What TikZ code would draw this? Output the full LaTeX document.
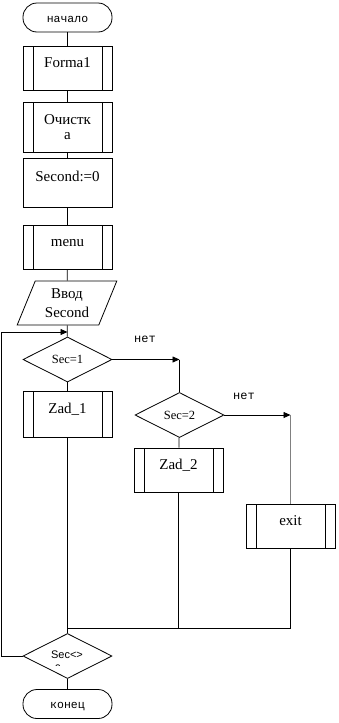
\documentclass[tikz,border=0pt]{standalone}
\usepackage{fontspec}
\setmainfont{Liberation Serif}
\newfontfamily\monof{Liberation Mono}
\newfontfamily\sansf{Liberation Sans}
\usetikzlibrary{shapes.geometric,arrows.meta,calc}
\begin{document}
\begin{tikzpicture}[x=1pt,y=-1pt, line width=0.8pt,
  box/.style={draw, rectangle, minimum width=89pt, inner sep=0pt, font=\fontsize{15}{17}\selectfont},
  oneline/.style={text height=10pt, text depth=12pt},
  predef/.style={box, path picture={
     \draw ($(path picture bounding box.north west)+(10pt,0)$) -- ($(path picture bounding box.south west)+(10pt,0)$);
     \draw ($(path picture bounding box.north east)+(-10pt,0)$) -- ($(path picture bounding box.south east)+(-10pt,0)$);}},
  term/.style={draw, rectangle, rounded corners=14pt, minimum width=89pt, minimum height=29pt, inner sep=0pt,
     font=\monof\fontsize{11.5}{13}\selectfont, text height=9pt, text depth=0pt},
  dec/.style={draw, diamond, minimum width=89pt, minimum height=45pt, inner sep=0pt, font=\fontsize{12.5}{14}\selectfont},
  lbl/.style={font=\monof\fontsize{12}{14}\selectfont, anchor=base},
  arr/.style={-{Triangle[length=7pt,width=6pt]}}
]
\useasboundingbox (0,0) rectangle (338,723);

\node[term] (start) at (67.5,17.5) {начало};
\node[predef, oneline, minimum height=44pt] (f1) at (67.5,68) {Forma1};
\node[predef, align=center, minimum height=50pt] (clr) at (67.5,127) {Очистк\\[-2pt]а};
\node[box, oneline, minimum height=49pt] (sec0) at (67.5,182.5) {Second:=0};
\node[predef, oneline, minimum height=44pt] (menu) at (67.5,247) {menu};
\node[trapezium, trapezium left angle=66.6, trapezium right angle=113.4, trapezium stretches=true,
      draw, minimum width=100pt, minimum height=44pt, inner sep=0pt, align=center,
      font=\fontsize{15}{17}\selectfont] (io) at (67,303) {Ввод\\[2pt]Second};
\node[dec] (d1) at (67.5,359.5) {Sec=1};
\node[predef, oneline, minimum height=46pt] (z1) at (67.5,414) {Zad\_1};
\node[dec] (d2) at (179.5,415) {Sec=2};
\node[predef, oneline, minimum height=44pt] (z2) at (178.5,470) {Zad\_2};
\node[predef, oneline, minimum height=44pt] (ex) at (290.5,526) {exit};
\node[dec] (d3) at (67.5,656) {};
\node[term] (stop) at (67.5,704) {конец};

\begin{scope}
  \clip (23,634) rectangle (112,665.5);
  \node[font=\sansf\fontsize{11}{13}\selectfont, anchor=base] (t3) at (67,658) {Sec<>};
  \node[font=\sansf\fontsize{11}{13}\selectfont, anchor=base] (t3b) at (58,672) {0};
\end{scope}

\coordinate (j1) at (67.5,332);
\coordinate (j2) at (179.5,359.5);
\coordinate (j3) at (290.5,415);
\coordinate (m) at (67.5,628);

\draw (start) -- (f1);
\draw (f1) -- (clr);
\draw (clr) -- (sec0);
\draw (sec0) -- (menu);
\draw (menu) -- (io);
\draw (io) -- (d1);
\draw (d1) -- (z1);
\draw (z1) -- (d3);
\draw (d3) -- (stop);

\draw[arr] (d1.east) -- (j2);
\draw (j2) -- (d2.north);
\node[lbl] (n1) at (145,342) {нет};
\draw[arr] (d2.east) -- (j3);
\draw[gray] (j3) -- (ex.north);
\node[lbl] (n2) at (244,399) {нет};
\draw (d2) -- (z2);

\draw (z2.south) -- (z2.south |- m);
\draw (ex.south) -- (ex.south |- m) -- (m);

\draw[arr] (d3.west) -- (1,656) -- (1,332) -- (j1);
\end{tikzpicture}
\end{document}
